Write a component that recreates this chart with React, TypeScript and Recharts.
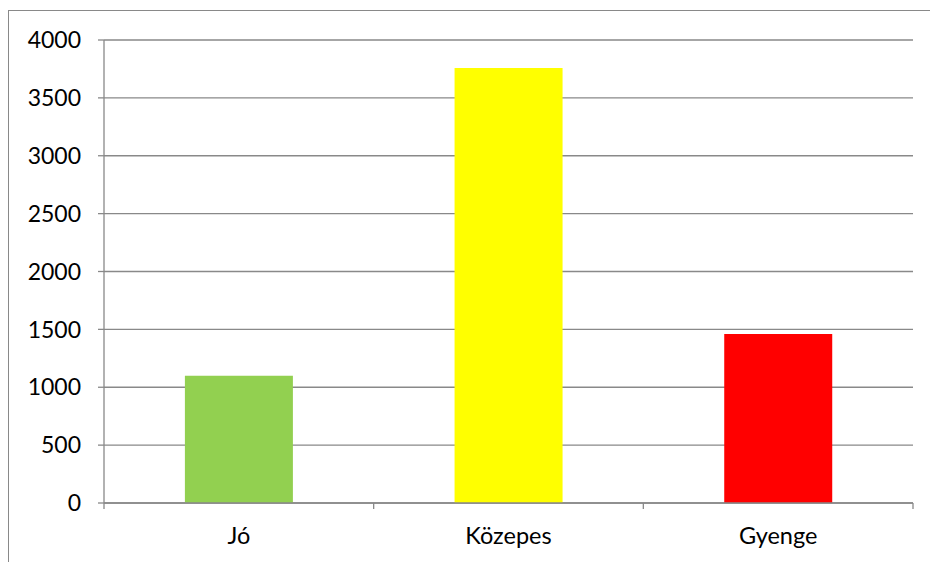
import React from "react";
import { BarChart, Bar, Cell, XAxis, YAxis, CartesianGrid } from "recharts";

const categories = ["Jó", "Közepes", "Gyenge"];
const values = [1100, 3758, 1460];
const barColors = ["#92d050", "#ffff00", "#ff0000"];
const yTicks = [0, 500, 1000, 1500, 2000, 2500, 3000, 3500, 4000];

const data = categories.map((name, i) => ({ name, value: values[i] }));

const font = "Lato, 'Open Sans', sans-serif";
const gray = "#898989";
const xTickMargin = 18;
const xTickSize = 6;

// category label plus Excel-style tick marks on the category boundaries
function CategoryTick(props: any) {
  const { x, y, payload, index, visibleTicksCount } = props;
  const half = payload.offset || 0;
  const axisY = y - xTickMargin - xTickSize;
  return (
    <g>
      <line x1={x - half} x2={x - half} y1={axisY} y2={axisY + 6} stroke={gray} strokeWidth={1.3} />
      {index === visibleTicksCount - 1 && (
        <line x1={x + half} x2={x + half} y1={axisY} y2={axisY + 6} stroke={gray} strokeWidth={1.3} />
      )}
      <text x={x} y={y} dy="0.71em" textAnchor="middle" fill="#000" fontSize={23.5} fontFamily={font}>
        {payload.value}
      </text>
    </g>
  );
}

export default function App() {
  return (
    <div style={{ position: "fixed", left: 0, top: 0, width: 930, height: 562, overflow: "hidden", background: "#fff", fontFamily: font }}>
      <div style={{ position: "absolute", left: 8, top: 10, width: 922, height: 1, background: gray }} />
      <div style={{ position: "absolute", left: 8, top: 10, width: 1, height: 552, background: gray }} />
      <BarChart
        width={930}
        height={562}
        data={data}
        margin={{ top: 40, right: 17, bottom: 0, left: 0 }}
        barCategoryGap="30%"
        style={{ position: "absolute", left: 0, top: 0 }}
      >
        <CartesianGrid horizontal vertical={false} stroke={gray} strokeWidth={1.3} />
        <XAxis
          dataKey="name"
          height={59}
          axisLine={{ stroke: gray, strokeWidth: 1.3 }}
          tickLine={false}
          tickSize={xTickSize}
          tickMargin={xTickMargin}
          interval={0}
          tick={<CategoryTick />}
        />
        <YAxis
          width={104}
          domain={[0, 4000]}
          ticks={yTicks}
          interval={0}
          axisLine={{ stroke: gray, strokeWidth: 1.3 }}
          tickLine={{ stroke: gray, strokeWidth: 1.3 }}
          tickSize={6}
          tickMargin={17}
          tick={{ fill: "#000", fontSize: 23, fontFamily: font }}
        />
        <Bar dataKey="value" isAnimationActive={false}>
          {data.map((d, i) => (
            <Cell key={d.name} fill={barColors[i]} />
          ))}
        </Bar>
      </BarChart>
    </div>
  );
}
